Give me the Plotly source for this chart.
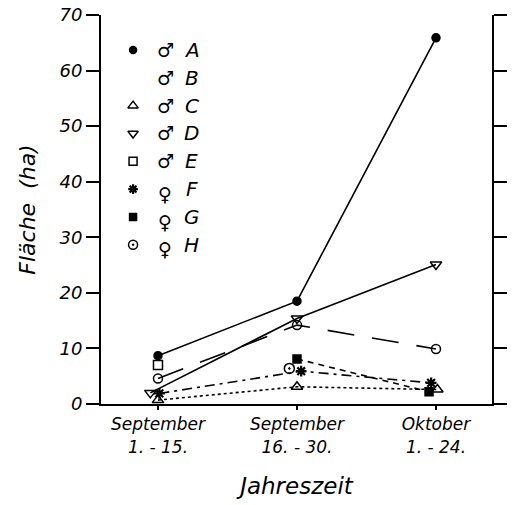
import plotly.graph_objects as go

# ---- data ----
categories = ["September<br>1. - 15.", "September<br>16. - 30.", "Oktober<br>1. - 24."]
series_names = ["A", "B", "C", "D", "E", "F", "G", "H"]
sex = ["♂", "♂", "♂", "♂", "♂", "♀", "♀", "♀"]
vals_A = [8.7, 18.5, 65.9]
vals_B = [4.6, 14.2, 9.9]
vals_C = [0.7, 3.1, 2.6]
vals_D = [2.0, 15.4, 25.1]
vals_E = [7.0, None, None]
vals_F = [1.9, 5.9, 3.8]
vals_G = [None, 8.1, 2.2]
vals_H = [None, 6.4, None]
y_ticks = [0, 10, 20, 30, 40, 50, 60, 70]

# ---- style ----
FONT = "DejaVu Sans"
styles = {
    "A": dict(symbol="circle", size=8, dash="solid", offs=[0, 0, 0]),
    "B": dict(symbol="circle-open", size=9, dash="27px,18px", offs=[0, 0, 0]),
    "C": dict(symbol="triangle-up-open", size=10, dash="dot", offs=[0, 0, 0.01]),
    "D": dict(symbol="triangle-down-open", size=10, dash="solid", offs=[-0.055, 0, 0]),
    "E": dict(symbol="square-open", size=9, dash="solid", offs=[0, 0, 0]),
    "F": dict(symbol="asterisk-open", size=9, dash="10px,5px,3px,5px", offs=[0.01, 0.03, -0.035]),
    "G": dict(symbol="square", size=8, dash="6px,5px", offs=[0, 0, -0.05]),
    "H": dict(symbol="circle-open-dot", size=10, dash="solid", offs=[0, -0.055, 0]),
}
data = dict(A=vals_A, B=vals_B, C=vals_C, D=vals_D, E=vals_E, F=vals_F, G=vals_G, H=vals_H)

fig = go.Figure()
order = ["C", "F", "G", "H", "B", "D", "E", "A"]
for name in order:
    st = styles[name]
    xs = [i + o for i, o in enumerate(st["offs"])]
    mk = dict(symbol=st["symbol"], size=st["size"], color="black",
              line=dict(color="black", width=2.2 if "asterisk" in st["symbol"] else 1.5))
    fig.add_trace(go.Scatter(
        x=xs, y=data[name], mode="lines+markers", connectgaps=False,
        line=dict(color="black", width=1.6, dash=st["dash"]),
        marker=mk, showlegend=False, cliponaxis=False))

# manual legend (markers on overlay axes, text as annotations)
row_y0 = 0.91
row_step = 0.0715
leg_x, leg_y, leg_sym = [], [], []
for k, name in enumerate(series_names):
    yy = row_y0 - k * row_step
    if name != "B":
        leg_x.append(0.082)
        leg_y.append(yy)
        leg_sym.append(name)
    fig.add_annotation(x=0.164, y=yy - (0.012 if sex[k] == "♀" else 0), xref="x domain", yref="y domain",
                       text=sex[k], showarrow=False, xanchor="center", yanchor="middle",
                       font=dict(family="DejaVu Sans", size=19, color="black"))
    fig.add_annotation(x=0.232, y=yy, xref="x domain", yref="y domain",
                       text=name, showarrow=False, xanchor="center", yanchor="middle",
                       font=dict(family=FONT, size=20, color="black", style="italic"))
for xx, yy, nm in zip(leg_x, leg_y, leg_sym):
    st = styles[nm]
    fig.add_trace(go.Scatter(
        x=[xx], y=[yy], xaxis="x2", yaxis="y2", mode="markers", showlegend=False,
        marker=dict(symbol=st["symbol"], size=st["size"] - 1, color="black",
                    line=dict(color="black", width=2.2 if "asterisk" in st["symbol"] else 1.5))))

fig.update_layout(
    width=512, height=505,
    margin=dict(l=101, r=20, t=15, b=101),
    paper_bgcolor="white", plot_bgcolor="white",
    font=dict(family=FONT, color="black", size=15, style="italic"),
    xaxis=dict(range=[-0.41, 2.403], tickvals=[0, 1, 2], ticktext=categories,
               showline=True, linecolor="black", linewidth=2, ticks="outside",
               ticklen=4, tickwidth=1.5, tickcolor="black", showgrid=False, zeroline=False,
               automargin=False,
               tickfont=dict(family=FONT, size=17, style="italic"),
               title=dict(text="Jahreszeit", standoff=22,
                          font=dict(family=FONT, size=23, style="italic"))),
    yaxis=dict(range=[0, 70], tickvals=y_ticks, showline=True, linecolor="black",
               linewidth=2, ticks="outside", ticklen=13, tickwidth=2, tickcolor="black",
               mirror="ticks", showgrid=False, zeroline=False, automargin=False,
               tickfont=dict(family=FONT, size=18, style="italic"),
               title=dict(text="Fläche  (ha)", standoff=18,
                          font=dict(family=FONT, size=22, style="italic"))),
    xaxis2=dict(overlaying="x", range=[0, 1], visible=False),
    yaxis2=dict(overlaying="y", range=[0, 1], visible=False),
)

fig.write_html("out.html", config={"displayModeBar": False},
               post_script="document.body.style.margin='0';")
